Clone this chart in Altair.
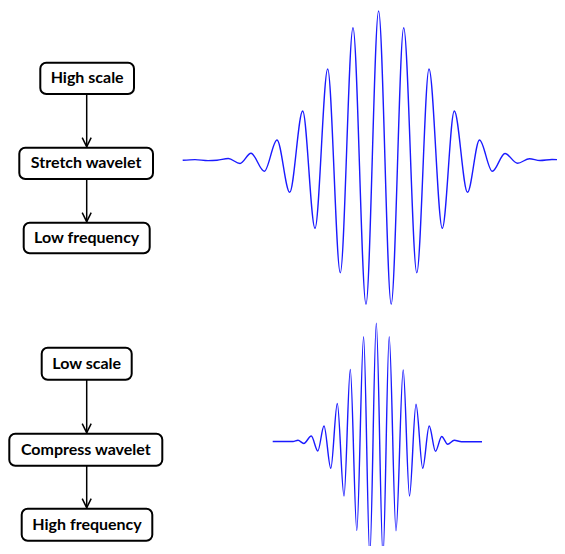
import altair as alt
import pandas as pd

# ---- wavelet traces (pixel coordinates of the reference) ----
top_wave_x = [182.7, 195, 208, 217, 228.3, 240, 251, 264.3, 277, 289.7, 302.7, 315, 327.7,
              340.3, 353, 366, 378.6, 391.2, 403.7, 416.8, 429, 442.3, 454.3, 467.5, 479.5,
              492.3, 505, 517.5, 529.5, 540, 552, 565]
top_wave_y = [160.3, 159.6, 160.6, 160.3, 158.5, 163.5, 153.3, 171.3, 140, 192.3, 111, 228.3, 69,
              272.7, 27.7, 304.3, 11, 304.3, 27.7, 272.7, 69, 228.3, 111, 192.3, 140,
              171.3, 153.5, 163.3, 158.7, 160.5, 159.5, 160.2]

bot_wave_x = [272.7, 285, 293, 298, 303.8, 311.3, 317.8, 324, 330.8, 337.3, 344, 350.3, 356.8,
              363.6, 369.8, 376.3, 383, 389.2, 396, 403.2, 409.5, 416, 422.7, 429.2, 435.5,
              441.7, 447.7, 454.3, 461.5, 472, 482]
bot_wave_y = [441.5, 441.5, 441.5, 440.3, 443.5, 436, 451, 426, 468.3, 403.5, 496, 369.5, 530.5,
              336.7, 556, 323.3, 556, 336.7, 530.7, 370, 496, 404.3, 468.3, 426, 451.3,
              436.5, 444.3, 440.3, 441.7, 441.7, 441.7]

# ---- flowchart ----
box_labels = ["High scale", "Stretch wavelet", "Low frequency",
              "Low scale", "Compress wavelet", "High frequency"]
box_x1 = [40.3, 19.3, 23.7, 41.7, 9.3, 21.7]
box_x2 = [134, 153, 149.7, 131.7, 162.3, 152.3]
box_y1 = [62.7, 147.7, 222.7, 347.7, 433.7, 508.7]
box_y2 = [94, 179, 253.3, 379.7, 465.7, 540.7]

arrow_x = [86.7, 86.7, 86.7, 86.7]
arrow_from = [94, 179, 379.7, 465.7]
arrow_to = [146.7, 221.7, 432.7, 507.7]

wave_df = pd.DataFrame({
    "x": top_wave_x + bot_wave_x,
    "y": top_wave_y + bot_wave_y,
    "wave": ["stretched"] * len(top_wave_x) + ["compressed"] * len(bot_wave_x),
})
box_df = pd.DataFrame({"label": box_labels, "x1": box_x1, "x2": box_x2,
                       "y1": box_y1, "y2": box_y2})
arrow_df = pd.DataFrame({"x": arrow_x, "y1": arrow_from, "y2": arrow_to})

xs = alt.Scale(domain=[0, 565], nice=False, zero=False)
ys = alt.Scale(domain=[0, 554], nice=False, zero=False, reverse=True)

waves = alt.Chart(wave_df).mark_line(
    interpolate="monotone", color="#1a1aff", strokeWidth=1.4
).encode(
    x=alt.X("x:Q", scale=xs, axis=None),
    y=alt.Y("y:Q", scale=ys, axis=None),
    detail="wave:N",
)

boxes = alt.Chart(box_df).mark_rect(
    fill="white", stroke="black", strokeWidth=2, cornerRadius=6
).encode(
    x=alt.X("x1:Q", scale=xs, axis=None), x2="x2:Q",
    y=alt.Y("y1:Q", scale=ys, axis=None), y2="y2:Q",
)

labels = alt.Chart(box_df).transform_calculate(
    xc="(datum.x1 + datum.x2) / 2", yc="(datum.y1 + datum.y2) / 2"
).mark_text(
    font="Lato", fontWeight="bold", fontSize=16, color="black",
    align="center", baseline="middle"
).encode(
    x=alt.X("xc:Q", scale=xs, axis=None),
    y=alt.Y("yc:Q", scale=ys, axis=None),
    text="label:N",
)

shafts = alt.Chart(arrow_df).mark_rule(color="black", strokeWidth=1.5).encode(
    x=alt.X("x:Q", scale=xs, axis=None),
    y=alt.Y("y1:Q", scale=ys, axis=None), y2="y2:Q",
)

heads = alt.Chart(arrow_df).mark_point(
    shape="M-1,-2L0,0L1,-2", filled=False, stroke="black",
    strokeWidth=1.5, size=81, opacity=1
).encode(
    x=alt.X("x:Q", scale=xs, axis=None),
    y=alt.Y("y2:Q", scale=ys, axis=None),
)

chart = alt.layer(waves, shafts, heads, boxes, labels).properties(
    width=565, height=554,
    autosize=alt.AutoSizeParams(type="none"),
    padding={"left": -8, "top": -8, "right": -8, "bottom": -8},
    background="white",
).configure_view(stroke=None)

chart.save("out.html", embed_options={"renderer": "svg", "actions": False})
